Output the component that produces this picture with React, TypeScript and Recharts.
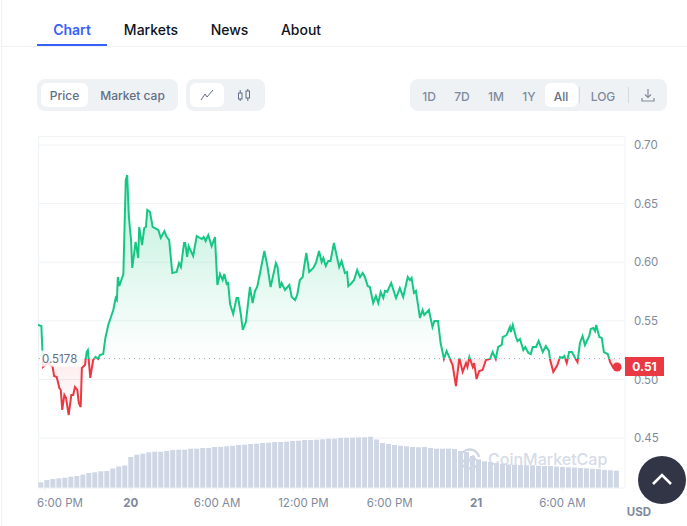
import React from "react";
import {
  Area,
  Bar,
  CartesianGrid,
  ComposedChart,
  ReferenceDot,
  ReferenceLine,
  XAxis,
  YAxis,
} from "recharts";

// minutes after 6:00 PM on the 19th
const priceMinutes = [
  -27, -13, -9, -6, 15, 34, 40, 51, 62, 68, 74, 83, 90, 101, 112, 120, 127, 137, 143, 151, 156, 169, 176, 181, 191, 203,
  213, 224, 231, 245, 254, 266, 287, 297, 302, 306, 312, 329, 339, 345, 352, 361, 366, 380, 391, 395, 407, 416, 423, 429,
  440, 451, 475, 485, 500, 510, 520, 533, 551, 561, 569, 582, 587, 595, 601, 620, 635, 656, 664, 672, 683, 697, 711, 721,
  732, 743, 750, 760, 766, 774, 787, 801, 808, 818, 827, 840, 857, 868, 878, 887, 899, 917, 929, 943, 965, 972, 982, 989,
  1003, 1021, 1031, 1045, 1054, 1065, 1077, 1082, 1092, 1104, 1121, 1132, 1145, 1156, 1163, 1173, 1183, 1193, 1207, 1229,
  1239, 1253, 1262, 1267, 1281, 1291, 1304, 1316, 1327, 1336, 1348, 1357, 1371, 1382, 1392, 1402, 1413, 1420, 1429, 1446,
  1466, 1482, 1496, 1515, 1524, 1531, 1541, 1549, 1566, 1577, 1584, 1603, 1618, 1626, 1641, 1652, 1666, 1677, 1691, 1702,
  1716, 1730, 1744, 1758, 1764, 1772, 1786, 1792, 1802, 1813, 1827, 1841, 1858, 1869, 1882, 1892, 1907, 1911, 1927, 1941,
  1945, 1953, 1966, 1973, 1983, 1997, 2005, 2018, 2028, 2036, 2050, 2061, 2078, 2091, 2104, 2108, 2122, 2139, 2150, 2161,
  2168, 2178, 2188, 2200, 2215, 2223, 2233, 2244, 2254, 2272, 2278, 2289, 2296, 2301, 2314, 2324, 2333, 2349, 2359, 2373,
  2388,
];

const prices = [
  0.5465, 0.5456, 0.5268, 0.5106, 0.514, 0.5106, 0.503, 0.5021, 0.4927, 0.491, 0.474, 0.4868, 0.4842, 0.4697, 0.4868,
  0.4868, 0.4936, 0.491, 0.4799, 0.4765, 0.5098, 0.5123, 0.5234, 0.5251, 0.5013, 0.5166, 0.5192, 0.5175, 0.5209, 0.5217,
  0.5354, 0.5465, 0.5593, 0.5695, 0.5678, 0.5874, 0.5797, 0.59, 0.6701, 0.6744, 0.6386, 0.619, 0.5951, 0.6173, 0.6036,
  0.6301, 0.6147, 0.6292, 0.6301, 0.6446, 0.6428, 0.6301, 0.6275, 0.6207, 0.6266, 0.6215, 0.619, 0.5908, 0.5917, 0.5993,
  0.5959, 0.6164, 0.6164, 0.6045, 0.6138, 0.6053, 0.6224, 0.6198, 0.6215, 0.6181, 0.6232, 0.6138, 0.6215, 0.5806, 0.59,
  0.5848, 0.59, 0.5814, 0.5823, 0.5644, 0.5558, 0.5695, 0.5695, 0.5567, 0.5422, 0.549, 0.5789, 0.5652, 0.5755, 0.5789,
  0.5908, 0.6096, 0.5976, 0.5789, 0.5993, 0.5959, 0.578, 0.5823, 0.5763, 0.5806, 0.5703, 0.5678, 0.5721, 0.5848, 0.5874,
  0.5951, 0.6079, 0.5917, 0.5951, 0.5993, 0.6096, 0.6002, 0.6036, 0.5968, 0.6011, 0.6011, 0.6164, 0.5959, 0.6011, 0.5908,
  0.5917, 0.5797, 0.5823, 0.5848, 0.5934, 0.5874, 0.5908, 0.5874, 0.5797, 0.5789, 0.5652, 0.5712, 0.5652, 0.5746, 0.5695,
  0.5755, 0.5746, 0.5823, 0.5695, 0.578, 0.5703, 0.5874, 0.5848, 0.5866, 0.5738, 0.5755, 0.5524, 0.5593, 0.555, 0.5593,
  0.5448, 0.5499, 0.5499, 0.5311, 0.5175, 0.5243, 0.5175, 0.5123, 0.4944, 0.5183, 0.5064, 0.514, 0.5106, 0.5192, 0.5106,
  0.514, 0.5004, 0.5072, 0.5081, 0.5166, 0.5175, 0.5234, 0.5175, 0.5277, 0.5294, 0.5362, 0.5379, 0.5448, 0.5405, 0.5465,
  0.5362, 0.5328, 0.5345, 0.5251, 0.5277, 0.5226, 0.5217, 0.5277, 0.5277, 0.5328, 0.5234, 0.5285, 0.5243, 0.5175, 0.5064,
  0.5123, 0.5192, 0.5183, 0.52, 0.514, 0.5234, 0.5234, 0.5175, 0.5149, 0.5311, 0.5371, 0.5294, 0.5371, 0.543, 0.5439,
  0.5413, 0.5465, 0.5362, 0.5354, 0.5234, 0.5217, 0.5149, 0.5098, 0.5106,
];

// one bar every 25 minutes, starting at minute -15
const volumes = [
  5.7, 8, 9, 9.7, 10.3, 11.3, 12, 13.3, 15, 15.7, 16.7, 17, 19.5, 21.5, 22.5, 31, 33.3, 34.3, 35.7, 36.3, 36.3, 37, 38,
  38.3, 38.3, 39.3, 39.3, 40, 40, 41, 41, 41.7, 42.3, 43, 43.3, 44, 44.3, 45, 45.3, 46, 46, 46.3, 47, 47.3, 48, 48, 48.3,
  48.7, 49.3, 49.3, 50, 50.2, 50.3, 50.5, 50.7, 51.3, 48.5, 45, 44, 43, 42.3, 41.7, 41, 40.7, 41, 40, 39.3, 39.3, 39.3, 39,
  37, 36, 32, 28.5, 26.7, 26, 25, 24.3, 23.5, 23.2, 23, 22.8, 22.7, 22.3, 22, 22, 21.5, 21, 20.7, 20.5, 20, 19.7, 19.3, 19,
  18, 17.7, 17.3,
];

const openingPrice = 0.5178;
const lastPrice = 0.5106;
const priceTicks = [0.45, 0.5, 0.55, 0.6, 0.65, 0.7];
const timeTicks = [0, 360, 720, 1080, 1440, 1800, 2160];
const timeLabels = ["6:00 PM", "20", "6:00 AM", "12:00 PM", "6:00 PM", "21", "6:00 AM"];
const tabs = ["Chart", "Markets", "News", "About"];
const ranges = ["1D", "7D", "1M", "1Y", "All", "LOG"];

const rows = [
  ...prices.map((price, i) => ({ minute: priceMinutes[i], price })),
  ...volumes.map((volume, i) => ({ minute: -15 + i * 25, volume })),
].sort((a, b) => a.minute - b.minute);

const top = Math.max(...prices);
const bottom = Math.min(...prices);
const split = (top - openingPrice) / (top - bottom);

const GREEN = "#16c784";
const RED = "#ea3943";
const GREY = "#808a9d";
const PILL = "#eff2f5";
const FONT = "Inter, sans-serif";

const box = (left: number, top: number, width: number, height: number, extra: React.CSSProperties = {}) =>
  ({ position: "absolute", left, top, width, height, ...extra }) as React.CSSProperties;

const Label = ({ x, y, text, color = GREY, size = 12, weight = 500 }: any) => (
  <div
    style={{
      position: "absolute",
      left: x,
      top: y,
      transform: "translate(-50%, -50%)",
      color,
      fontSize: size,
      fontWeight: weight,
      whiteSpace: "nowrap",
    }}
  >
    {text}
  </div>
);

const TimeTick = ({ x, y, index }: any) => {
  const label = timeLabels[index];
  const isDay = label.length === 2;
  return (
    <text
      x={index === 0 ? 37 : x}
      y={y + 11}
      textAnchor={index === 0 ? "start" : "middle"}
      dominantBaseline="middle"
      fill={GREY}
      fontSize={11.5}
      fontWeight={isDay ? 700 : 400}
      fontFamily={FONT}
    >
      {label}
    </text>
  );
};

const OpeningLabel = ({ viewBox }: any) => (
  <g>
    <rect x={viewBox.x + 2} y={viewBox.y - 8} width={42} height={16} fill="#fff" fillOpacity={0.85} />
    <text
      x={viewBox.x + 4}
      y={viewBox.y + 1}
      dominantBaseline="middle"
      fill="#616e85"
      fontSize={11.5}
      fontFamily={FONT}
    >
      0.5178
    </text>
  </g>
);

// the merged rows make the band tiny, so the bar keeps its own width around the scaled x
const VolumeBar = ({ x, y, width, height }: any) =>
  height > 0 ? <rect x={x + width / 2 - 2.5} y={y} width={5} height={height} fill="#cfd6e4" /> : null;

export default function App() {
  return (
    <div style={{ ...box(0, 0, 687, 526), background: "#fff", fontFamily: FONT, overflow: "hidden" }}>
      <div style={box(1, 0, 1, 526, { background: PILL })} />

      {/* tabs */}
      <div style={box(1, 46, 686, 1, { background: PILL })} />
      <div style={box(37, 44, 70, 2, { background: "#3861fb" })} />
      <Label x={72} y={29} text={tabs[0]} color="#3861fb" size={14} weight={600} />
      <Label x={151} y={29} text={tabs[1]} color="#0d1421" size={14} />
      <Label x={229.5} y={29} text={tabs[2]} color="#0d1421" size={14} />
      <Label x={301} y={29} text={tabs[3]} color="#0d1421" size={14} />

      {/* toolbar */}
      <div style={box(37, 79, 141, 32, { background: PILL, borderRadius: 8 })} />
      <div style={box(41, 83, 47, 24, { background: "#fff", borderRadius: 6 })} />
      <Label x={64.5} y={95} text="Price" color="#616e85" />
      <Label x={132.5} y={95} text="Market cap" color="#616e85" />

      <div style={box(186, 79, 79, 32, { background: PILL, borderRadius: 8 })} />
      <div style={box(190, 83, 34, 24, { background: "#fff", borderRadius: 6 })} />
      <svg style={box(200, 88, 14, 14)} viewBox="0 0 14 14" fill="none" stroke="#616e85" strokeWidth="1">
        <path d="M1 12 L5 6 L7 9 L13 2" />
      </svg>
      <svg style={box(237, 88, 14, 14)} viewBox="0 0 14 14" fill="none" stroke="#616e85" strokeWidth="1">
        <rect x="1.5" y="5" width="3.5" height="6" />
        <rect x="9" y="3" width="3.5" height="7" />
        <path d="M3.2 2 V5 M3.2 11 V13 M10.8 1 V3 M10.8 10 V13" />
      </svg>

      <div style={box(410, 79, 257, 32, { background: PILL, borderRadius: 8 })} />
      <div style={box(545, 83, 33, 24, { background: "#fff", borderRadius: 6 })} />
      <div style={box(579, 87, 1, 16, { background: "#d5dae3" })} />
      <div style={box(628, 87, 1, 16, { background: "#d5dae3" })} />
      {[429, 462, 496, 529, 561, 603].map((x, i) => (
        <Label key={ranges[i]} x={x} y={95.5} text={ranges[i]} color={i === 4 ? "#616e85" : GREY} />
      ))}
      <svg style={box(641, 88, 14, 14)} viewBox="0 0 14 14" fill="none" stroke={GREY} strokeWidth="1.2">
        <path d="M7 1 V9 M4 6.5 L7 9.5 L10 6.5 M1 10 V13 H13 V10" />
      </svg>

      {/* plot frame */}
      <div style={box(38, 136, 587, 1, { background: PILL })} />
      <div style={box(38, 136, 1, 352, { background: PILL })} />

      <ComposedChart
        width={687}
        height={526}
        data={rows}
        margin={{ top: 136, right: 0, bottom: 0, left: 38 }}
        style={{ position: "absolute", left: 0, top: 0 }}
      >
        <defs>
          <linearGradient id="priceFill" x1="0" y1="0" x2="0" y2="1">
            <stop offset="0" stopColor={GREEN} stopOpacity={0.28} />
            <stop offset={split} stopColor={GREEN} stopOpacity={0} />
            <stop offset={split} stopColor={RED} stopOpacity={0.1} />
            <stop offset="1" stopColor={RED} stopOpacity={0} />
          </linearGradient>
          <linearGradient id="priceStroke" x1="0" y1="0" x2="0" y2="1">
            <stop offset={split} stopColor={GREEN} />
            <stop offset={split} stopColor={RED} />
          </linearGradient>
        </defs>
        <CartesianGrid yAxisId="price" vertical={false} stroke={PILL} syncWithTicks />
        <XAxis
          dataKey="minute"
          type="number"
          domain={[-27, 2421]}
          ticks={timeTicks}
          allowDataOverflow
          height={38}
          stroke={PILL}
          tickSize={3}
          interval={0}
          tick={<TimeTick />}
        />
        <YAxis
          yAxisId="price"
          orientation="right"
          type="number"
          domain={[0.4074, 0.7077]}
          ticks={priceTicks}
          allowDataOverflow
          width={62}
          stroke={PILL}
          tickLine={false}
          tickMargin={3}
          interval={0}
          tickFormatter={(v: number) => v.toFixed(2)}
          tick={{ fill: GREY, fontSize: 11.5, fontFamily: FONT }}
        />
        <YAxis yAxisId="volume" hide type="number" domain={[0, 352]} />
        <Bar yAxisId="volume" dataKey="volume" shape={<VolumeBar />} isAnimationActive={false} />
        <Area
          yAxisId="price"
          type="linear"
          dataKey="price"
          baseValue={openingPrice}
          connectNulls
          stroke="url(#priceStroke)"
          strokeWidth={2}
          fill="url(#priceFill)"
          fillOpacity={1}
          dot={false}
          activeDot={false}
          isAnimationActive={false}
        />
        <ReferenceLine
          yAxisId="price"
          y={openingPrice}
          stroke="#a1a7bb"
          strokeDasharray="1 4"
          label={<OpeningLabel />}
        />
        <ReferenceDot yAxisId="price" x={2388} y={lastPrice} r={4.5} fill={RED} stroke="none" />
      </ComposedChart>

      {/* last price tag */}
      <div
        style={box(625, 357, 39, 19, {
          background: RED,
          color: "#fff",
          fontSize: 12,
          fontWeight: 700,
          lineHeight: "19px",
          textAlign: "center",
        })}
      >
        0.51
      </div>

      {/* watermark */}
      <svg style={box(458, 447, 24, 24)} viewBox="0 0 24 24" fill="none" stroke="#cfd6e4" strokeWidth="2.4">
        <path d="M21 14 A9.5 9.5 0 1 1 21 10" />
        <path d="M5 15 L9 9 L12 14 L15 9 L19 14" strokeWidth="1.8" />
      </svg>
      <div
        style={{
          position: "absolute",
          left: 488,
          top: 449,
          color: "#cfd6e4",
          opacity: 0.85,
          fontSize: 16,
          fontWeight: 500,
          lineHeight: "20px",
        }}
      >
        CoinMarketCap
      </div>

      {/* scroll to top */}
      <div style={box(638, 456, 48, 48, { background: "#323546", borderRadius: "50%" })} />
      <svg style={box(650, 468, 24, 24)} viewBox="0 0 24 24" fill="none" stroke="#fff" strokeWidth="2.6">
        <path d="M3 16 L12 7 L21 16" />
      </svg>

      <Label x={639} y={512} text="USD" size={11.5} weight={700} />
    </div>
  );
}
